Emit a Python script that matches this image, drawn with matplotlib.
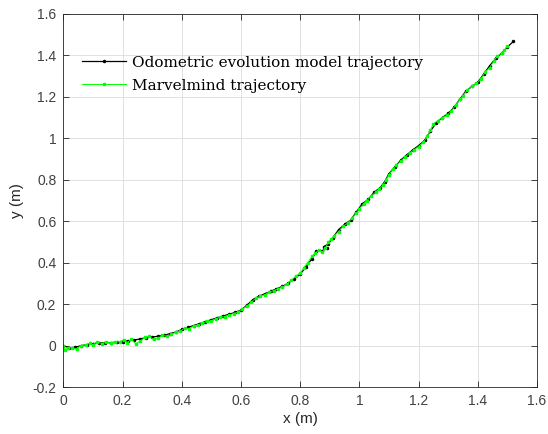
import matplotlib
matplotlib.use('Agg')
import matplotlib.pyplot as plt

# odometric evolution model trajectory (black)
odo_x = [0.0, 0.02, 0.04, 0.06, 0.08, 0.10, 0.12, 0.14, 0.16, 0.18, 0.20, 0.22, 0.24, 0.26,
         0.28, 0.30, 0.32, 0.34, 0.36, 0.38, 0.40, 0.42, 0.44, 0.46, 0.48, 0.50, 0.52, 0.54,
         0.56, 0.58, 0.60, 0.62, 0.64, 0.66, 0.68, 0.70, 0.72, 0.74, 0.76, 0.78, 0.80, 0.82,
         0.84, 0.855, 0.875, 0.89, 0.88, 0.895, 0.91, 0.93, 0.95, 0.97, 0.99, 1.01, 1.03, 1.05,
         1.07, 1.085, 1.10, 1.12, 1.14, 1.16, 1.18, 1.20, 1.22, 1.24, 1.26, 1.28, 1.30, 1.32,
         1.34, 1.36, 1.38, 1.40, 1.42, 1.44, 1.46, 1.48, 1.50, 1.52]
odo_y = [0.0, -0.01, -0.008, 0.0, 0.005, 0.01, 0.012, 0.015, 0.014, 0.017, 0.02, 0.024, 0.027, 0.033,
         0.038, 0.042, 0.045, 0.05, 0.058, 0.066, 0.078, 0.088, 0.097, 0.106, 0.116, 0.125, 0.135, 0.143,
         0.152, 0.16, 0.172, 0.195, 0.222, 0.238, 0.25, 0.262, 0.274, 0.286, 0.302, 0.322, 0.345, 0.38,
         0.42, 0.455, 0.458, 0.47, 0.478, 0.49, 0.52, 0.56, 0.585, 0.605, 0.645, 0.685, 0.705, 0.74,
         0.762, 0.79, 0.83, 0.862, 0.895, 0.92, 0.944, 0.965, 0.99, 1.035, 1.075, 1.10, 1.12, 1.15,
         1.19, 1.228, 1.25, 1.27, 1.31, 1.35, 1.385, 1.41, 1.44, 1.467]

# marvelmind trajectory (green)
mm_x = [0.0, 0.005, 0.015, 0.03, 0.045, 0.06, 0.075, 0.09, 0.10, 0.115, 0.13, 0.145, 0.16, 0.175,
        0.19, 0.205, 0.215, 0.23, 0.245, 0.26, 0.275, 0.29, 0.305, 0.32, 0.335, 0.35, 0.365, 0.38,
        0.395, 0.41, 0.425, 0.44, 0.455, 0.47, 0.485, 0.50, 0.515, 0.53, 0.545, 0.56, 0.575, 0.59,
        0.605, 0.62, 0.635, 0.65, 0.665, 0.68, 0.695, 0.71, 0.725, 0.74, 0.755, 0.77, 0.785, 0.80,
        0.812, 0.825, 0.84, 0.85, 0.862, 0.875, 0.885, 0.895, 0.905, 0.915, 0.93, 0.945, 0.96, 0.975,
        0.99, 1.0, 1.015, 1.025, 1.04, 1.055, 1.065, 1.08, 1.09, 1.10, 1.112, 1.125, 1.14, 1.155,
        1.17, 1.185, 1.20, 1.215, 1.23, 1.24, 1.25, 1.265, 1.28, 1.295, 1.31, 1.325, 1.34, 1.35,
        1.365, 1.38, 1.395, 1.41, 1.425, 1.44, 1.455, 1.465, 1.48, 1.49, 1.50]
mm_y = [0.0, -0.02, -0.012, -0.01, -0.015, 0.0, 0.005, 0.012, 0.005, 0.018, 0.01, 0.02, 0.012, 0.018,
        0.02, 0.028, 0.015, 0.03, 0.01, 0.022, 0.04, 0.045, 0.03, 0.035, 0.05, 0.045, 0.055, 0.065,
        0.07, 0.085, 0.082, 0.095, 0.10, 0.108, 0.118, 0.12, 0.13, 0.138, 0.14, 0.148, 0.155, 0.162,
        0.178, 0.19, 0.21, 0.228, 0.238, 0.245, 0.258, 0.265, 0.275, 0.282, 0.298, 0.315, 0.335, 0.35,
        0.375, 0.40, 0.43, 0.445, 0.46, 0.45, 0.47, 0.50, 0.515, 0.53, 0.55, 0.575, 0.59, 0.615,
        0.64, 0.66, 0.685, 0.70, 0.72, 0.74, 0.755, 0.775, 0.80, 0.825, 0.85, 0.87, 0.89, 0.91,
        0.93, 0.945, 0.96, 0.98, 1.01, 1.04, 1.07, 1.085, 1.10, 1.11, 1.13, 1.16, 1.19, 1.205,
        1.235, 1.25, 1.265, 1.285, 1.32, 1.34, 1.375, 1.395, 1.41, 1.425, 1.445]

x_ticks = [0, 0.2, 0.4, 0.6, 0.8, 1, 1.2, 1.4, 1.6]
x_labels = ['0', '0.2', '0.4', '0.6', '0.8', '1', '1.2', '1.4', '1.6']
y_ticks = [-0.2, 0, 0.2, 0.4, 0.6, 0.8, 1, 1.2, 1.4, 1.6]
y_labels = ['-0.2', '0', '0.2', '0.4', '0.6', '0.8', '1', '1.2', '1.4', '1.6']

plt.rcParams['font.family'] = ['Liberation Sans', 'DejaVu Sans']

fig = plt.figure(figsize=(5.48, 4.34), dpi=100)
ax = fig.add_axes([0.1155, 0.108, 0.8645, 0.86])

ax.plot(odo_x, odo_y, color='black', linewidth=0.9, marker='.', markersize=3,
        label='Odometric evolution model trajectory')
ax.plot(mm_x, mm_y, color='#00ff00', linewidth=0.7, marker='s', markersize=2,
        label='Marvelmind trajectory')

ax.set_xlim(0, 1.6)
ax.set_ylim(-0.2, 1.6)
ax.set_xticks(x_ticks)
ax.set_xticklabels(x_labels)
ax.set_yticks(y_ticks)
ax.set_yticklabels(y_labels)
ax.grid(True, color='#dcdcdc', linewidth=0.6)
ax.set_axisbelow(True)
ax.tick_params(direction='in', top=True, right=True, length=4, width=0.6,
               colors='#262626', labelsize=10, pad=5)
ax.tick_params(labelcolor='#404040')
for s in ax.spines.values():
    s.set_color('#262626')
    s.set_linewidth(0.6)

ax.set_xlabel('x (m)', fontsize=11, color='#262626', labelpad=3)
ax.set_ylabel('y (m)', fontsize=11, color='#262626', labelpad=6)

leg = ax.legend(loc='upper left', frameon=False, prop={'family': 'DejaVu Serif', 'size': 11},
                handlelength=2.9, handletextpad=0.4, labelspacing=0.6,
                bbox_to_anchor=(0.01, 0.925))

fig.savefig('out.png', dpi=100)
